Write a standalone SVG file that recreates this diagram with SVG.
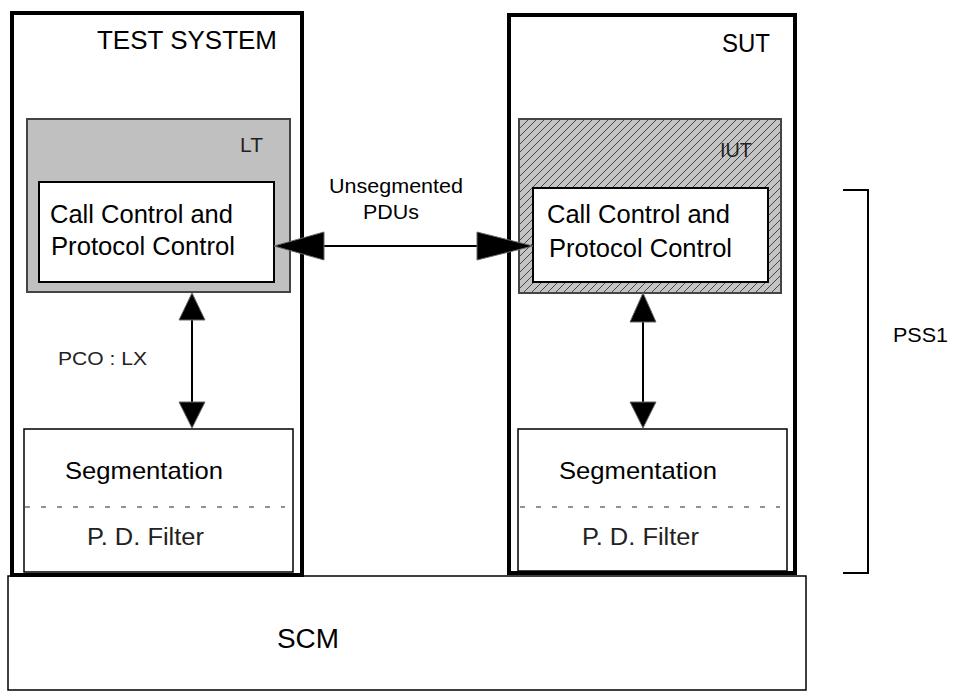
<svg xmlns="http://www.w3.org/2000/svg" width="953" height="699" viewBox="0 0 953 699">
<style>
text{font-family:"Liberation Sans",Arial,sans-serif;fill:#000}
.light{fill:#222}
.outer{fill:#fff;stroke:#000;stroke-width:4}
.inner{fill:#fff;stroke:#000;stroke-width:2}
.seg{fill:#fff;stroke:#000;stroke-width:1.5}
.dash{stroke:#222;stroke-width:1;stroke-dasharray:5 11}
.line{stroke:#000;stroke-width:2;fill:none}
.head{fill:#000;stroke:#666;stroke-width:1}
</style>
<defs>
<pattern id="hatch" patternUnits="userSpaceOnUse" width="8" height="8">
<rect width="8" height="8" fill="#c4c4c4"/>
<path d="M-1,1 L1,-1 M0,8 L8,0 M7,9 L9,7" stroke="#111" stroke-width="0.7"/>
</pattern>
</defs>
<rect width="953" height="699" fill="#fff"/>
<g id="scm">
<rect x="8" y="576" width="798" height="114" fill="#fff" stroke="#000" stroke-width="1.5"/>
<text x="277" y="648" font-size="27" textLength="62" lengthAdjust="spacingAndGlyphs">SCM</text>
</g>
<g id="test-system">
<rect class="outer" x="12" y="13" width="290" height="562"/>
<text x="97" y="49" font-size="25" textLength="180" lengthAdjust="spacingAndGlyphs">TEST SYSTEM</text>
</g>
<g id="sut">
<rect class="outer" x="509" y="15" width="286" height="558"/>
<text x="722" y="52" font-size="25" textLength="48" lengthAdjust="spacingAndGlyphs">SUT</text>
</g>
<g id="lt">
<rect x="27" y="119" width="263" height="173" fill="#c0c0c0" stroke="#444" stroke-width="2"/>
<text class="light" x="240" y="152" font-size="20" textLength="23" lengthAdjust="spacingAndGlyphs">LT</text>
</g>
<g id="iut">
<rect x="519" y="119" width="262" height="174" fill="url(#hatch)" stroke="#444" stroke-width="2"/>
<text class="light" x="720" y="157" font-size="20" textLength="32" lengthAdjust="spacingAndGlyphs">IUT</text>
</g>
<g id="cc-left">
<rect class="inner" x="39" y="182" width="235" height="100"/>
<text x="50" y="223" font-size="25" textLength="183" lengthAdjust="spacingAndGlyphs">Call Control and</text>
<text x="51" y="255" font-size="25" textLength="184" lengthAdjust="spacingAndGlyphs">Protocol Control</text>
</g>
<g id="cc-right">
<rect class="inner" x="533" y="188" width="235" height="94"/>
<text x="547" y="223" font-size="25" textLength="183" lengthAdjust="spacingAndGlyphs">Call Control and</text>
<text x="549" y="257" font-size="25" textLength="183" lengthAdjust="spacingAndGlyphs">Protocol Control</text>
</g>
<g id="seg-left">
<rect class="seg" x="24" y="429" width="269" height="143"/>
<text x="65" y="479" font-size="24" textLength="158" lengthAdjust="spacingAndGlyphs">Segmentation</text>
<line class="dash" x1="25" y1="507" x2="285" y2="507"/>
<text class="light" x="87" y="545" font-size="23" textLength="117" lengthAdjust="spacingAndGlyphs">P. D. Filter</text>
</g>
<g id="seg-right">
<rect class="seg" x="518" y="429" width="269" height="142"/>
<text x="559" y="479" font-size="24" textLength="158" lengthAdjust="spacingAndGlyphs">Segmentation</text>
<line class="dash" x1="520" y1="507" x2="780" y2="507"/>
<text class="light" x="582" y="545" font-size="23" textLength="117" lengthAdjust="spacingAndGlyphs">P. D. Filter</text>
</g>
<g id="pss1">
<path class="line" d="M843,190 H868 V573 H843" stroke-width="1.5"/>
<text x="893" y="342" font-size="21" textLength="55" lengthAdjust="spacingAndGlyphs">PSS1</text>
</g>
<g id="connectors">
<line class="line" x1="280" y1="246" x2="528" y2="246"/>
<polygon class="head" points="274,246 324,232 324,260"/>
<polygon class="head" points="533,246 477,232 477,260"/>
<text x="329" y="193" font-size="20" textLength="134" lengthAdjust="spacingAndGlyphs">Unsegmented</text>
<text x="363" y="219" font-size="20" textLength="56" lengthAdjust="spacingAndGlyphs">PDUs</text>
<line class="line" x1="192" y1="298" x2="192" y2="423"/>
<polygon class="head" points="192,293 179,320 205,320"/>
<polygon class="head" points="192,428 179,402 205,402"/>
<text class="light" x="58" y="365" font-size="18" textLength="89" lengthAdjust="spacingAndGlyphs">PCO : LX</text>
<line class="line" x1="643" y1="298" x2="643" y2="423"/>
<polygon class="head" points="643,293 630,322 656,322"/>
<polygon class="head" points="643,428 630,402 656,402"/>
</g>
</svg>
